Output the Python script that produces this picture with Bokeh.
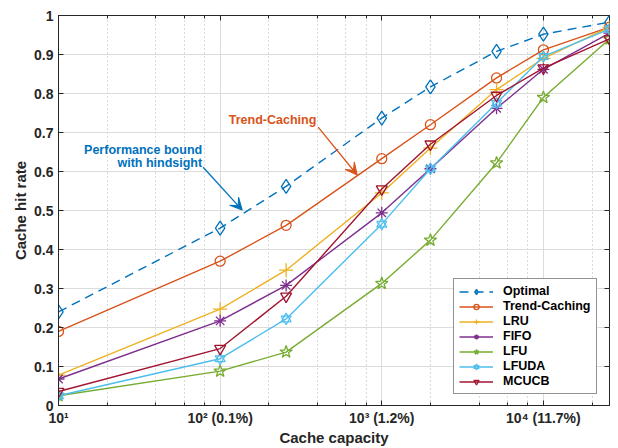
from bokeh.plotting import figure
from bokeh.models import (Range1d, LogAxis, LinearAxis, FixedTicker, Legend, LegendItem,
                          Arrow, VeeHead, Label, ColumnDataSource, LogTicker)
from bokeh.embed import file_html
from bokeh.resources import INLINE

capacity = [10, 100, 256, 1000, 2000, 5130, 10000, 25640]
optimal = [0.240, 0.455, 0.562, 0.737, 0.817, 0.908, 0.952, 0.983]
trend = [0.190, 0.370, 0.462, 0.633, 0.720, 0.840, 0.912, 0.970]
lru = [0.078, 0.247, 0.347, 0.545, 0.660, 0.810, 0.890, 0.970]
fifo = [0.068, 0.217, 0.308, 0.494, 0.607, 0.762, 0.862, 0.955]
lfu = [0.025, 0.088, 0.137, 0.313, 0.424, 0.622, 0.790, 0.940]
lfuda = [0.025, 0.120, 0.222, 0.465, 0.607, 0.775, 0.895, 0.965]
mcucb = [0.036, 0.146, 0.280, 0.555, 0.670, 0.795, 0.865, 0.940]

x_ticks = [10, 100, 1000, 10000]
x_tick_labels = ["10\u00b9", "10\u00b2 (0.1%)", "10\u00b3 (1.2%)", "10\u2074 (11.7%)"]
y_ticks = [0, 0.1, 0.2, 0.3, 0.4, 0.5, 0.6, 0.7, 0.8, 0.9, 1.0]
y_tick_labels = ["0", "0.1", "0.2", "0.3", "0.4", "0.5", "0.6", "0.7", "0.8", "0.9", "1"]

FONT = "Liberation Sans"

p = figure(width=618, height=448, x_axis_type="log", output_backend="svg",
           toolbar_location=None, x_range=Range1d(10, 25640), y_range=Range1d(0, 1),
           min_border_left=58, min_border_top=15, min_border_right=9, min_border_bottom=42)
p.background_fill_color = "white"
p.outline_line_color = "#262626"
p.outline_line_width = 1

for ax in [p.xaxis[0], p.yaxis[0]]:
    ax.major_label_text_font = FONT
    ax.major_label_text_font_style = "bold"
    ax.major_label_text_font_size = "14px"
    ax.major_label_text_color = "#262626"
    ax.axis_label_text_font = FONT
    ax.axis_label_text_font_style = "bold"
    ax.axis_label_text_font_size = "15px"
    ax.axis_label_text_color = "#262626"
    ax.major_tick_in = 5
    ax.major_tick_out = 0
    ax.minor_tick_in = 3
    ax.minor_tick_out = 0
    ax.axis_line_color = "#262626"
    ax.major_tick_line_color = "#262626"
    ax.minor_tick_line_color = "#262626"

p.xaxis.ticker = LogTicker(desired_num_ticks=4)
p.xaxis.major_label_overrides = {t: l for t, l in zip(x_ticks, x_tick_labels)}
p.xaxis.axis_label = "Cache capacity"
p.xaxis.major_label_standoff = 4
p.xaxis.axis_label_standoff = 0
p.yaxis.ticker = FixedTicker(ticks=y_ticks)
p.yaxis.major_label_overrides = {t: l for t, l in zip(y_ticks, y_tick_labels)}
p.yaxis.axis_label = "Cache hit rate"
p.yaxis.major_label_standoff = 5
p.yaxis.axis_label_standoff = 2
p.yaxis.minor_tick_line_color = None

top = LogAxis(ticker=LogTicker(desired_num_ticks=4), major_label_text_font_size="1px",
              major_label_text_color=None,
              major_label_standoff=0, major_tick_in=5, major_tick_out=0,
              minor_tick_in=3, minor_tick_out=0, axis_line_color=None,
              major_tick_line_color="#262626", minor_tick_line_color="#262626")
right = LinearAxis(ticker=FixedTicker(ticks=y_ticks), major_label_text_font_size="1px",
                   major_label_text_color=None,
                   major_label_standoff=0, major_tick_in=5, major_tick_out=0,
                   minor_tick_line_color=None, axis_line_color=None,
                   major_tick_line_color="#262626")
p.add_layout(top, "above")
p.add_layout(right, "right")

p.xgrid.grid_line_color = "#dcdcdc"
p.xgrid.minor_grid_line_color = "#b4b4b4"
p.xgrid.minor_grid_line_dash = "1 3"
p.ygrid.grid_line_color = "#dcdcdc"

series = [
    ("Optimal", optimal, "#0072BD", "diamond"),
    ("Trend-Caching", trend, "#D95319", "circle"),
    ("LRU", lru, "#EDB120", "cross"),
    ("FIFO", fifo, "#7E2F8E", "asterisk"),
    ("LFU", lfu, "#77AC30", "star"),
    ("LFUDA", lfuda, "#4DBEEE", "hexagram"),
    ("MCUCB", mcucb, "#A2142F", "inverted_triangle"),
]

items = []
for name, vals, color, marker in series:
    src = ColumnDataSource(dict(x=capacity, y=vals))
    dash = "9 6" if name == "Optimal" else "solid"
    ln = p.line("x", "y", source=src, line_color=color, line_width=1.4, line_dash=dash)
    rs = [ln]
    if marker == "hexagram":
        for m in ["triangle", "inverted_triangle"]:
            rs.append(p.scatter("x", "y", source=src, marker=m, size=10,
                                line_color=color, fill_color=None, line_width=1.2))
    else:
        size = {"diamond": 14, "circle": 10, "cross": 14, "asterisk": 12,
                "star": 13, "inverted_triangle": 11}[marker]
        rs.append(p.scatter("x", "y", source=src, marker=marker, size=size,
                            line_color=color, fill_color=None, line_width=1.3))
    items.append(LegendItem(label=name, renderers=rs))

legend = Legend(items=items, location=(395, 11), label_text_font=FONT,
                label_text_font_style="bold", label_text_font_size="12.5px",
                label_text_color="#000000", glyph_width=34, glyph_height=13,
                label_height=13, spacing=1, padding=5, margin=0,
                border_line_color="#262626", border_line_width=1,
                label_standoff=10, background_fill_alpha=1)
p.add_layout(legend, "center")

p.add_layout(Label(x=211, y=0.731, text="Trend-Caching", text_font=FONT,
                   text_font_style="bold", text_font_size="12.5px", text_color="#D95319",
                   text_align="center", text_baseline="middle"))
p.add_layout(Label(x=77.4, y=0.655, text="Performance bound", text_font=FONT,
                   text_font_style="bold", text_font_size="12.5px", text_color="#0072BD",
                   text_align="right", text_baseline="middle"))
p.add_layout(Label(x=77.4, y=0.621, text="with hindsight", text_font=FONT,
                   text_font_style="bold", text_font_size="12.5px", text_color="#0072BD",
                   text_align="right", text_baseline="middle"))
p.add_layout(Arrow(x_start=404, y_start=0.714, x_end=705, y_end=0.591,
                   line_color="#D95319", line_width=1.3,
                   end=VeeHead(size=12, fill_color="#D95319", line_color="#D95319")))
p.add_layout(Arrow(x_start=78.5, y_start=0.611, x_end=137, y_end=0.501,
                   line_color="#0072BD", line_width=1.3,
                   end=VeeHead(size=12, fill_color="#0072BD", line_color="#0072BD")))

open("out.html", "w").write(file_html(p, INLINE))
